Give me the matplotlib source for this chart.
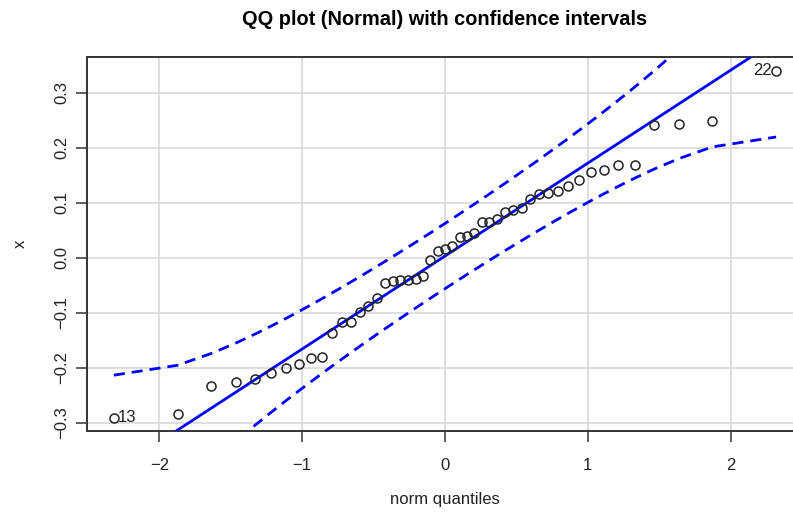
import numpy as np
import matplotlib
matplotlib.use("Agg")
import matplotlib.pyplot as plt

# theoretical normal quantiles, qnorm(ppoints(49))
quantiles_neg = [-2.3187, -1.8719, -1.6353, -1.4652, -1.3294, -1.2147, -1.1140,
                 -1.0234, -0.9405, -0.8636, -0.7915, -0.7235, -0.6585, -0.5962,
                 -0.5362, -0.4780, -0.4213, -0.3660, -0.3119, -0.2587, -0.2062,
                 -0.1544, -0.1025, -0.0512]
norm_q = quantiles_neg + [0.0] + [-q for q in quantiles_neg[::-1]]

# ordered sample values
x_sorted = [-0.2907, -0.2847, -0.2333, -0.2255, -0.2211, -0.2091, -0.2011, -0.1933,
            -0.1829, -0.1811, -0.1375, -0.1164, -0.1164, -0.0982, -0.0878, -0.0738,
            -0.0455, -0.0418, -0.0405, -0.0405, -0.0387, -0.0338, -0.0051, 0.0122,
            0.0149, 0.0218, 0.0382, 0.0395, 0.0455, 0.0644, 0.0655, 0.0704,
            0.0836, 0.0867, 0.0898, 0.1067, 0.1153, 0.1182, 0.1218, 0.1304,
            0.1413, 0.1564, 0.1595, 0.1680, 0.1680, 0.2413, 0.2425, 0.2485, 0.3400]

# labelled outliers: (index in sorted order, observation id)
outliers = [(0, "13"), (48, "22")]

# fitted reference line (intercept, slope)
line_intercept = 0.0029
line_slope = 0.1690

z = np.array(norm_q)
y = np.array(x_sorted)
n = len(y)

# pointwise 95% envelope around the reference line
P = (np.arange(1, n + 1) - 0.5) / n
dens = np.exp(-z ** 2 / 2) / np.sqrt(2 * np.pi)
se = (line_slope / dens) * np.sqrt(P * (1 - P) / n)
fit = line_intercept + line_slope * z
upper = fit + 1.959964 * se
lower = fit - 1.959964 * se

plt.rcParams['font.family'] = ['Liberation Sans', 'DejaVu Sans']
ink = "#222222"

fig = plt.figure(figsize=(7.93, 5.12), dpi=100)
ax = fig.add_axes([0.1101, 0.1574, 0.902, 0.7316])

pad_x = 0.04 * (z.max() - z.min())
pad_y = 0.04 * (y.max() - y.min())
ax.set_xlim(z.min() - pad_x, z.max() + pad_x)
ax.set_ylim(y.min() - pad_y, y.max() + pad_y)

ax.set_xticks([-2, -1, 0, 1, 2])
ax.set_yticks([-0.3, -0.2, -0.1, 0.0, 0.1, 0.2, 0.3])
ax.set_yticklabels(["\u22120.3", "\u22120.2", "\u22120.1", "0.0", "0.1", "0.2", "0.3"],
                   rotation=90, va="center")
ax.set_xticklabels(["\u22122", "\u22121", "0", "1", "2"])

ax.grid(True, color="#d6d6d6", linewidth=1.1)
ax.set_axisbelow(True)

xl = np.array(ax.get_xlim())
ax.plot(xl, line_intercept + line_slope * xl, color="blue", lw=2, zorder=3)
ax.plot(z, upper, color="blue", lw=2, dashes=(4, 2.5), zorder=3)
ax.plot(z, lower, color="blue", lw=2, dashes=(4, 2.5), zorder=3)

ax.plot(z, y, "o", mfc="none", mec=ink, ms=6.5, mew=1.1, zorder=4)

for idx, lab in outliers:
    if z[idx] < 0:
        ax.annotate(lab, (z[idx], y[idx]), xytext=(3, 0), textcoords="offset points",
                    ha="left", va="center", fontsize=12, color=ink)
    else:
        ax.annotate(lab, (z[idx], y[idx]), xytext=(-3, 0), textcoords="offset points",
                    ha="right", va="center", fontsize=12, color=ink)

for side in ["left", "bottom", "top", "right"]:
    ax.spines[side].set_color("#333333")
    ax.spines[side].set_linewidth(1.4)

ax.tick_params(axis="both", direction="out", length=8, width=1.1, color="#333333",
               labelsize=12, labelcolor=ink)
ax.tick_params(axis="x", pad=11)
ax.tick_params(axis="y", pad=5)

ax.set_xlabel("norm quantiles", fontsize=12, color=ink, labelpad=14)
ax.set_ylabel("x", fontsize=12, color=ink, labelpad=19)
ax.set_title("QQ plot (Normal) with confidence intervals", fontsize=14.4,
             fontweight="bold", pad=23)

fig.savefig("out.png", dpi=100)
